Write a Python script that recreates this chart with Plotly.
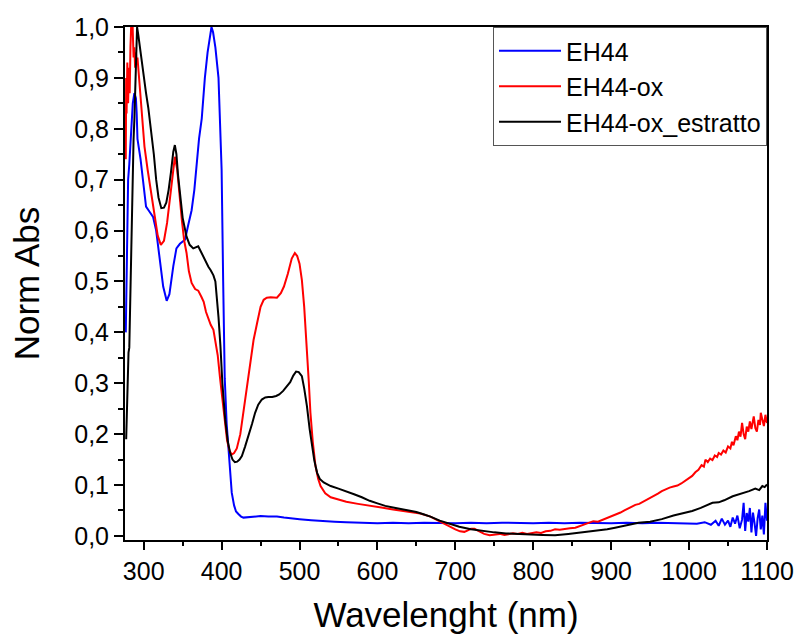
import plotly.graph_objects as go

# ---------------- data ----------------
eh44_x = [277, 278, 279, 280, 281.5, 283, 284.5, 286, 288, 290, 291, 292, 294, 296, 299, 303, 307.5, 312, 316, 321,
          325, 329.5, 333, 338, 342, 346.5, 350, 353, 357, 361.5, 365, 368, 371, 374.5, 378.5, 382, 385, 387, 389, 392,
          396, 400, 402, 404, 406.5, 409, 411, 413, 416, 418.5, 421.5, 425, 428, 435, 442, 450, 460, 471, 480, 490,
          500, 515, 530, 545, 560, 580, 600, 620, 640, 660, 680, 700, 720, 740, 760, 780, 800, 820, 840, 860,
          880, 900, 920, 940, 960, 980, 1000, 1010, 1020, 1028, 1034, 1038, 1042, 1046, 1050, 1053, 1056, 1059, 1062, 1065,
          1068, 1070, 1072, 1074, 1076, 1078, 1080, 1082, 1084, 1086, 1088, 1090, 1092, 1094, 1096, 1098, 1100]
eh44_y = [0.40, 0.50, 0.62, 0.70, 0.73, 0.78, 0.82, 0.85, 0.87, 0.86, 0.83, 0.78, 0.76, 0.74, 0.70, 0.647, 0.637, 0.627, 0.60, 0.54,
          0.49, 0.462, 0.475, 0.53, 0.565, 0.574, 0.578, 0.582, 0.61, 0.64, 0.68, 0.73, 0.78, 0.82, 0.90, 0.95, 0.985, 1.0, 0.99, 0.96,
          0.90, 0.72, 0.50, 0.31, 0.22, 0.163, 0.12, 0.085, 0.06, 0.048, 0.043, 0.038, 0.036, 0.037, 0.038, 0.039, 0.038, 0.038, 0.036, 0.034,
          0.033, 0.031, 0.029, 0.028, 0.027, 0.026, 0.025, 0.026, 0.025, 0.026, 0.025, 0.025, 0.026, 0.025, 0.026, 0.025, 0.025, 0.026, 0.025, 0.026,
          0.025, 0.025, 0.026, 0.025, 0.026, 0.025, 0.025, 0.024, 0.027, 0.022, 0.030, 0.020, 0.034, 0.022, 0.030, 0.018, 0.036, 0.024, 0.040, 0.015,
          0.032, 0.065, 0.010, 0.045, 0.028, 0.055, 0.007, 0.046, 0.025, 0.0, 0.035, 0.052, 0.013, 0.040, 0.003, 0.065, 0.030]

ox_x = [277, 277.5, 278, 279, 280, 281, 282, 283, 284, 285, 286, 287, 288, 289, 290, 291, 292, 294, 297, 301,
        305, 309, 314, 318, 322, 326, 330, 334, 337, 340, 343, 346, 349, 352, 355, 358, 361.5, 366, 370, 374,
        377, 380, 383, 386, 389.5, 392, 395, 398, 401, 404, 407, 410, 413, 416, 419.5, 424, 428, 432, 437, 441,
        445.5, 450, 454, 458, 463, 467, 471, 476, 480, 485, 490, 494, 497, 500, 503, 506, 509.5, 512, 514, 517,
        520.5, 524, 527, 533, 540, 550, 560, 575, 590, 605, 620, 640, 655, 668, 680, 690, 700, 706, 711.5, 716,
        720, 724.5, 730, 737, 744, 750, 757, 763, 768, 774, 780, 786, 792, 798, 804, 810, 816, 822, 828, 834,
        840, 847, 854, 860, 866, 871, 877, 883, 888, 893, 897, 902, 907, 912, 917, 922, 926, 931, 936, 941,
        945, 950, 955, 960, 965, 970, 975, 980, 985, 990, 995, 1000, 1004, 1008, 1012, 1016, 1019, 1021, 1024, 1027,
        1030, 1033, 1036, 1038, 1041, 1044, 1047, 1050, 1053, 1055, 1057, 1060, 1062, 1064, 1066, 1068, 1070, 1072, 1074, 1076,
        1078, 1080, 1083, 1085, 1087, 1089, 1091, 1092, 1094, 1096, 1098, 1100]
ox_y = [0.74, 0.90, 0.83, 0.93, 0.85, 0.92, 0.87, 0.96, 1.03, 1.05, 0.99, 0.94, 0.96, 0.92, 0.95, 0.93, 0.94, 0.90, 0.85, 0.765,
        0.72, 0.68, 0.627, 0.59, 0.572, 0.58, 0.615, 0.67, 0.715, 0.745, 0.72, 0.665, 0.62, 0.58, 0.556, 0.52, 0.497, 0.485, 0.482, 0.47,
        0.46, 0.44, 0.425, 0.415, 0.405, 0.385, 0.355, 0.31, 0.27, 0.22, 0.188, 0.168, 0.16, 0.163, 0.172, 0.20, 0.242, 0.29, 0.34, 0.385,
        0.418, 0.45, 0.464, 0.468, 0.469, 0.468, 0.468, 0.477, 0.49, 0.515, 0.545, 0.556, 0.55, 0.535, 0.503, 0.45, 0.373, 0.30, 0.242, 0.185,
        0.137, 0.112, 0.098, 0.084, 0.076, 0.071, 0.067, 0.063, 0.060, 0.056, 0.052, 0.048, 0.044, 0.038, 0.028, 0.020, 0.013, 0.009, 0.008, 0.011,
        0.014, 0.014, 0.010, 0.004, 0.0015, 0.002, 0.004, 0.002, 0.003, 0.005, 0.004, 0.006, 0.004, 0.005, 0.007, 0.006, 0.009, 0.010, 0.013, 0.012,
        0.014, 0.015, 0.016, 0.019, 0.022, 0.026, 0.029, 0.028, 0.031, 0.034, 0.037, 0.040, 0.043, 0.046, 0.050, 0.054, 0.058, 0.061, 0.063, 0.067,
        0.071, 0.074, 0.078, 0.083, 0.088, 0.092, 0.095, 0.097, 0.099, 0.103, 0.109, 0.115, 0.118, 0.125, 0.130, 0.139, 0.136, 0.150, 0.145, 0.152,
        0.149, 0.158, 0.155, 0.163, 0.160, 0.168, 0.164, 0.176, 0.172, 0.185, 0.178, 0.196, 0.188, 0.205, 0.195, 0.222, 0.200, 0.190, 0.215, 0.205,
        0.225, 0.210, 0.235, 0.212, 0.205, 0.228, 0.218, 0.242, 0.225, 0.216, 0.238, 0.222]

ext_x = [277.5, 278.5, 279.5, 280.5, 281.5, 282.5, 284, 285.5, 287, 288, 289.5, 290.5, 291.5, 293, 295, 296.6, 299, 301, 303, 306,
         309.5, 313, 316, 319, 322.6, 326, 329, 332, 335, 338, 340, 342, 344, 346.6, 350, 355, 359, 363.6, 367, 370,
         373, 376.6, 380, 383, 386, 389.5, 392, 394, 396, 398.5, 401, 404.6, 408, 411, 414, 417, 420, 423, 426, 430,
         434.6, 439, 443, 447, 451.6, 456, 460, 465, 470, 474, 479, 484, 488, 492, 495.6, 499, 503, 506, 509.5, 513,
         516, 519, 522.6, 526, 531, 536, 540, 550, 560, 570, 580, 590, 600, 610, 620, 630, 640, 650, 660, 668,
         680, 694, 705, 720, 733, 750, 765, 780, 797, 812, 828, 845, 862, 880, 895, 905, 920, 935, 950, 965,
         980, 995, 1004, 1015, 1030, 1038, 1045, 1056, 1065, 1077, 1085, 1090, 1094, 1097, 1100]
ext_y = [0.19, 0.25, 0.33, 0.36, 0.37, 0.45, 0.60, 0.70, 0.78, 0.817, 0.90, 0.96, 1.0, 0.985, 0.96, 0.948, 0.92, 0.895, 0.87, 0.84,
         0.797, 0.75, 0.70, 0.665, 0.644, 0.645, 0.655, 0.68, 0.715, 0.755, 0.768, 0.75, 0.71, 0.667, 0.625, 0.588, 0.572, 0.565, 0.568, 0.569,
         0.56, 0.549, 0.537, 0.529, 0.522, 0.512, 0.50, 0.47, 0.43, 0.373, 0.30, 0.229, 0.185, 0.163, 0.15, 0.145, 0.146, 0.15, 0.157, 0.175,
         0.196, 0.22, 0.242, 0.258, 0.268, 0.272, 0.273, 0.273, 0.275, 0.278, 0.285, 0.294, 0.302, 0.315, 0.323, 0.322, 0.314, 0.29, 0.255, 0.21,
         0.176, 0.148, 0.124, 0.112, 0.105, 0.101, 0.098, 0.093, 0.088, 0.082, 0.076, 0.069, 0.064, 0.059, 0.056, 0.053, 0.050, 0.047, 0.042, 0.038,
         0.030, 0.023, 0.018, 0.013, 0.0098, 0.007, 0.005, 0.0035, 0.003, 0.002, 0.0014, 0.004, 0.007, 0.010, 0.013, 0.016, 0.021, 0.026, 0.028, 0.033,
         0.040, 0.046, 0.049, 0.055, 0.065, 0.066, 0.070, 0.078, 0.082, 0.088, 0.093, 0.090, 0.098, 0.096, 0.101]

series_names = ["EH44", "EH44-ox", "EH44-ox_estratto"]
series_colors = ["#0000ff", "#ff0000", "#000000"]

x_ticks = [300, 400, 500, 600, 700, 800, 900, 1000, 1100]
y_ticks = [0.0, 0.1, 0.2, 0.3, 0.4, 0.5, 0.6, 0.7, 0.8, 0.9, 1.0]

FONT = "Liberation Sans, Arial, sans-serif"

fig = go.Figure()
for name, xs, ys, col in zip(series_names, [eh44_x, ox_x, ext_x], [eh44_y, ox_y, ext_y], series_colors):
    fig.add_trace(go.Scatter(x=xs, y=ys, mode="lines", name=name,
                             line=dict(color=col, width=2)))

fig.update_layout(
    width=797, height=634,
    margin=dict(l=125, r=30, t=27, b=94),
    paper_bgcolor="white", plot_bgcolor="white",
    separators=",.",
    font=dict(family=FONT, size=25, color="black"),
    showlegend=True,
    legend=dict(x=1.0, y=1.0, xanchor="right", yanchor="top",
                bgcolor="white", bordercolor="#555", borderwidth=1,
                font=dict(family=FONT, size=25, color="black"),
                itemwidth=62, tracegroupgap=0),
)
fig.update_xaxes(
    range=[276, 1100], tickvals=x_ticks, ticks="outside", ticklen=8, tickwidth=1.5, tickcolor="black",
    showline=True, linecolor="black", linewidth=2, mirror=True, showgrid=False, zeroline=False, automargin=False,
    minor=dict(ticks="outside", ticklen=4, tickwidth=1.5, tickcolor="black", dtick=50, tick0=300, showgrid=False),
    tickfont=dict(family=FONT, size=25, color="black"),
    title=dict(text="Wavelenght (nm)", font=dict(family=FONT, size=35, color="black"), standoff=18),
)
fig.update_yaxes(
    range=[-0.008, 1.0], tickvals=y_ticks, tickformat=".1f", ticks="outside", ticklen=9, tickwidth=1.5, tickcolor="black",
    showline=True, linecolor="black", linewidth=2, mirror=True, showgrid=False, zeroline=False, automargin=False,
    minor=dict(ticks="outside", ticklen=5, tickwidth=1.5, tickcolor="black", dtick=0.05, tick0=0, showgrid=False),
    tickfont=dict(family=FONT, size=25, color="black"),
    title=dict(text="Norm Abs", font=dict(family=FONT, size=35, color="black"), standoff=24),
)

fig.write_html("out.html")
